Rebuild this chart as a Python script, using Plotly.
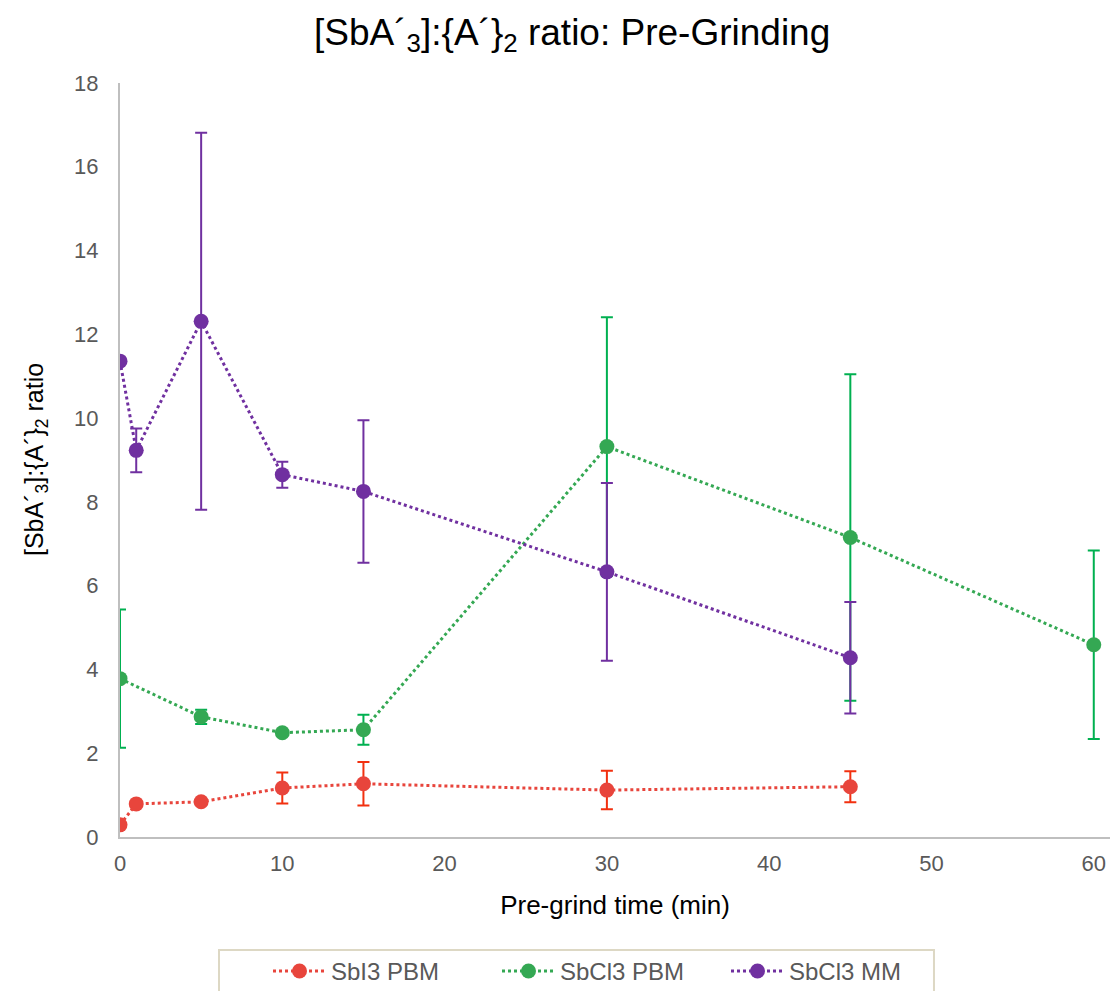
import plotly.graph_objects as go

# Pre-grind times (min)
time_sbi3_pbm = [0, 1, 5, 10, 15, 30, 45]
time_sbcl3_pbm = [0, 5, 10, 15, 30, 45, 60]
time_sbcl3_mm = [0, 1, 5, 10, 15, 30, 45]

# [SbA'3]:{A'}2 ratios and their error half-widths
ratio_sbi3_pbm = [0.29, 0.79, 0.84, 1.17, 1.27, 1.12, 1.20]
err_sbi3_pbm = [0.0, 0.0, 0.0, 0.37, 0.52, 0.46, 0.37]

ratio_sbcl3_pbm = [3.78, 2.87, 2.49, 2.56, 9.32, 7.15, 4.59]
err_sbcl3_pbm = [1.65, 0.17, 0.0, 0.36, 3.09, 3.90, 2.25]

ratio_sbcl3_mm = [11.36, 9.23, 12.31, 8.65, 8.25, 6.33, 4.28]
err_sbcl3_mm = [0.0, 0.52, 4.50, 0.31, 1.70, 2.12, 1.33]

series = [
    ("SbI3 PBM", time_sbi3_pbm, ratio_sbi3_pbm, err_sbi3_pbm, "#e8453c", "#f2300f"),
    ("SbCl3 PBM", time_sbcl3_pbm, ratio_sbcl3_pbm, err_sbcl3_pbm, "#34a853", "#00b050"),
    ("SbCl3 MM", time_sbcl3_mm, ratio_sbcl3_mm, err_sbcl3_mm, "#7030a0", "#7030a0"),
]

fig = go.Figure()
for name, x, y, e, color, ecolor in series:
    fig.add_trace(go.Scatter(
        x=x, y=y, name=name, mode="lines+markers",
        line=dict(color=color, width=3, dash="dot"),
        marker=dict(color=color, size=15),
        error_y=dict(type="data", array=e, visible=True,
                     color=ecolor, thickness=2, width=6),
    ))

font_family = "Liberation Sans, Arial, sans-serif"
tick_color = "#595959"
axis_color = "#bfbfbf"

# Legend frame, drawn as a paper-referenced rectangle that runs off the bottom edge
fig.add_shape(
    type="rect", xref="paper", yref="paper",
    x0=0.1, x1=0.8222, y0=-0.1499, y1=-0.26,
    line=dict(color="#ddd8c4", width=2), fillcolor="white", layer="below",
)

# Y-axis title placed as a rotated annotation
fig.add_annotation(
    text="[SbA´<sub>3</sub>]:{A´}<sub>2</sub> ratio",
    xref="paper", yref="paper", x=-0.0848, y=0.5,
    xanchor="center", yanchor="middle", textangle=-90, showarrow=False,
    font=dict(size=25, color="black", family=font_family),
)

fig.update_layout(
    width=1111, height=991,
    paper_bgcolor="white", plot_bgcolor="white",
    margin=dict(l=120, r=1, t=83, b=154, autoexpand=False),
    font=dict(family=font_family, color=tick_color, size=22),
    title=dict(
        text="[SbA´<sub>3</sub>]:{A´}<sub>2</sub> ratio: Pre-Grinding",
        x=0.515, xanchor="center", y=0.968, yanchor="middle",
        font=dict(size=37, color="black", family=font_family),
    ),
    xaxis=dict(
        range=[0, 61], tickvals=[0, 10, 20, 30, 40, 50, 60],
        showgrid=False, zeroline=False,
        showline=True, linecolor=axis_color, linewidth=2,
        ticks="", ticklabelstandoff=6,
        tickfont=dict(size=22, color=tick_color),
        title=dict(text="Pre-grind time (min)", standoff=20,
                   font=dict(size=26, color="black")),
    ),
    yaxis=dict(
        range=[0, 18], dtick=2,
        showgrid=False, zeroline=False,
        showline=True, linecolor=axis_color, linewidth=2,
        ticks="", ticklabelstandoff=15,
        tickfont=dict(size=22, color=tick_color),
    ),
    legend=dict(
        orientation="h", x=0.1495, xanchor="left", y=-0.1485, yanchor="top",
        borderwidth=0, bgcolor="rgba(0,0,0,0)",
        font=dict(size=24, color=tick_color),
        itemwidth=53, entrywidth=161,
    ),
    showlegend=True,
)

fig.write_html("out.html")
